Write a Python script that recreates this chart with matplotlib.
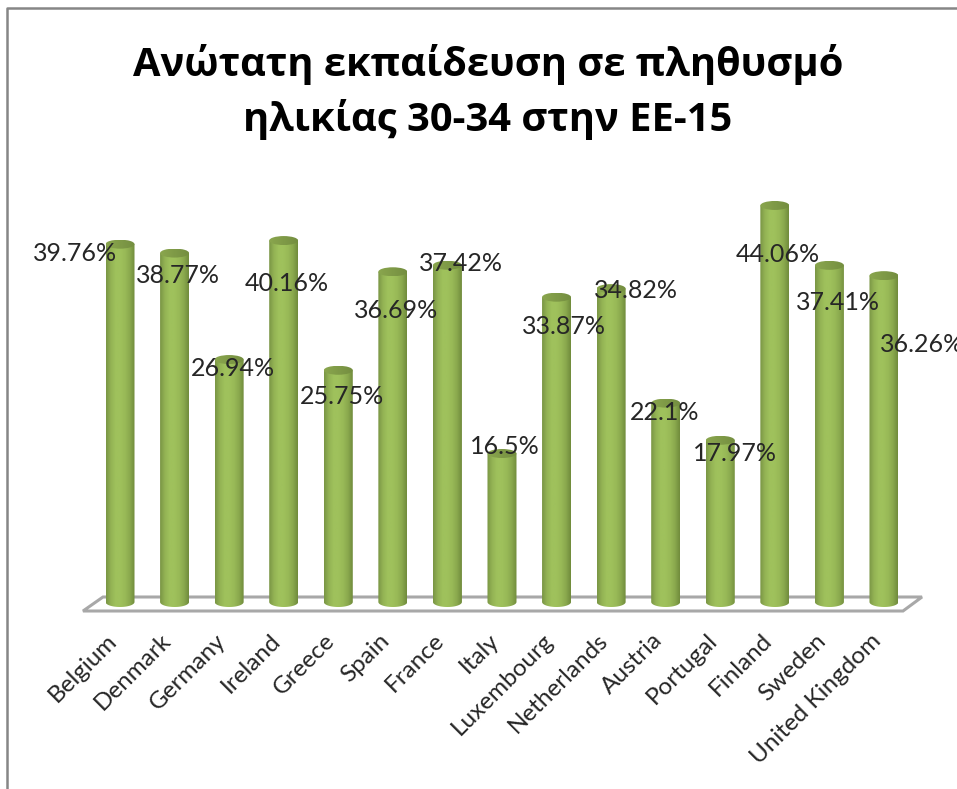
import numpy as np
import matplotlib
matplotlib.use("Agg")
import matplotlib.pyplot as plt
from matplotlib.colors import LinearSegmentedColormap
from matplotlib.lines import Line2D
from matplotlib.patches import Ellipse, PathPatch, Polygon
from matplotlib.path import Path
from matplotlib.transforms import ScaledTranslation

title = "Ανώτατη εκπαίδευση σε πληθυσμό\nηλικίας 30-34 στην ΕΕ-15"
countries = ["Belgium", "Denmark", "Germany", "Ireland", "Greece", "Spain", "France", "Italy",
             "Luxembourg", "Netherlands", "Austria", "Portugal", "Finland", "Sweden", "United Kingdom"]
values = [39.76, 38.77, 26.94, 40.16, 25.75, 36.69, 37.42, 16.5,
          33.87, 34.82, 22.1, 17.97, 44.06, 37.41, 36.26]
labels = ["39.76%", "38.77%", "26.94%", "40.16%", "25.75%", "36.69%", "37.42%", "16.5%",
          "33.87%", "34.82%", "22.1%", "17.97%", "44.06%", "37.41%", "36.26%"]

# where the value labels sit relative to the bar top, in pixels
label_dx = [-45, 3, 4, 3, 4, 3, 14, 3, 7, 25, -1, 15, 3, 9, 38]
label_dy = [-9, -22, -9, -43, -26, -39, 2, 7, -29, -2, -9, -13, -49, -37, -69]

W, H = 957, 789


def fx(x):
    return x / W


def fy(y):
    return 1 - y / H


def bar_outline(x, top, half_w, ell):
    # straight sides, rounded bottom
    t = np.linspace(np.pi, 2 * np.pi, 30)
    xs = x + half_w * np.cos(t)
    ys = ell * np.sin(t)
    vx = [x - half_w] + list(xs) + [x + half_w, x - half_w]
    vy = [top] + list(ys) + [top, top]
    return Path(np.column_stack([vx, vy]))


fig = plt.figure(figsize=(W / 100, H / 100), dpi=100)

# chart frame, only top and left are inside the picture
fig.add_artist(Line2D([fx(7), fx(7), fx(957)], [fy(789), fy(8), fy(8)], color="#868686", lw=1.8, zorder=-2))

# floor of the 3d chart
floor = [(83, 611), (903, 611), (922, 597), (103, 597)]
fig.add_artist(Polygon([(fx(a), fy(b)) for a, b in floor], closed=True, facecolor="white",
                       edgecolor="#a8a8a8", lw=2.2, zorder=-1, transform=fig.transFigure))

fig.text(fx(488), fy(92), title, ha="center", va="center", fontsize=28.7, fontweight="bold",
         family=["Open Sans", "DejaVu Sans"], color="black", linespacing=1.45)

# axes reach a bit below the zero line so the round bar bottoms are not cut
ymin = -18 / 9.0
ax = fig.add_axes([fx(120 - 27 * 1.5), fy(620), (54.57 * 14 + 81) / W, 438 / H])
ax.patch.set_visible(False)
for s in ax.spines.values():
    s.set_visible(False)

xpos = np.arange(len(countries))
xlim = (-0.5 * 81 / 54.57, 14 + 0.5 * 81 / 54.57)
ylim = (ymin, 420 / 9.0)
ax.set_xlim(xlim)
ax.set_ylim(ylim)
ax.set_yticks([])
ax.set_xticks(xpos)
ax.set_xticklabels(countries, rotation=45, ha="right", rotation_mode="anchor", va="top",
                   fontsize=17.5, family=["Lato", "DejaVu Sans"], color="#262626")
ax.tick_params(axis="x", length=0, pad=7)
for t in ax.get_xticklabels():
    t.set_transform(t.get_transform() + ScaledTranslation(-14 / 100, 0, fig.dpi_scale_trans))

body_cmap = LinearSegmentedColormap.from_list("body", ["#7a9645", "#93b354", "#9fc15c", "#9fc15c", "#98b957", "#8aa94e", "#718c3c"])
top_cmap = LinearSegmentedColormap.from_list("top", ["#8aa64e", "#7f9a47", "#748e40"])
grad = np.linspace(0, 1, 64).reshape(1, -1)

half_w = 14.5 / 54.57
ell_bottom = 5 / 9.0
ell_top = 4.5 / 9.0

bars = ax.bar(xpos, values, width=2 * half_w, color="none", edgecolor="none")

for x, v, rect in zip(xpos, values, bars):
    outline = PathPatch(bar_outline(x, v, half_w, ell_bottom), transform=ax.transData, facecolor="none", edgecolor="none")
    ax.add_patch(outline)
    im = ax.imshow(grad, cmap=body_cmap, aspect="auto", zorder=2,
                   extent=[x - half_w, x + half_w, -ell_bottom, v])
    im.set_clip_path(outline)
    cap = Ellipse((x, v), 2 * half_w, 2 * ell_top, facecolor="none", edgecolor="none", transform=ax.transData)
    ax.add_patch(cap)
    im2 = ax.imshow(grad, cmap=top_cmap, aspect="auto", zorder=3,
                    extent=[x - half_w, x + half_w, v - ell_top, v + ell_top])
    im2.set_clip_path(cap)

# imshow resets the limits
ax.set_xlim(xlim)
ax.set_ylim(ylim)

for x, v, lab, dx, dy in zip(xpos, values, labels, label_dx, label_dy):
    ax.annotate(lab, (x, v), xytext=(dx, dy), textcoords="offset pixels", ha="center", va="center",
                fontsize=18, family=["Lato", "DejaVu Sans"], color="#262626", zorder=5, annotation_clip=False)

fig.savefig("out.png", dpi=100)
